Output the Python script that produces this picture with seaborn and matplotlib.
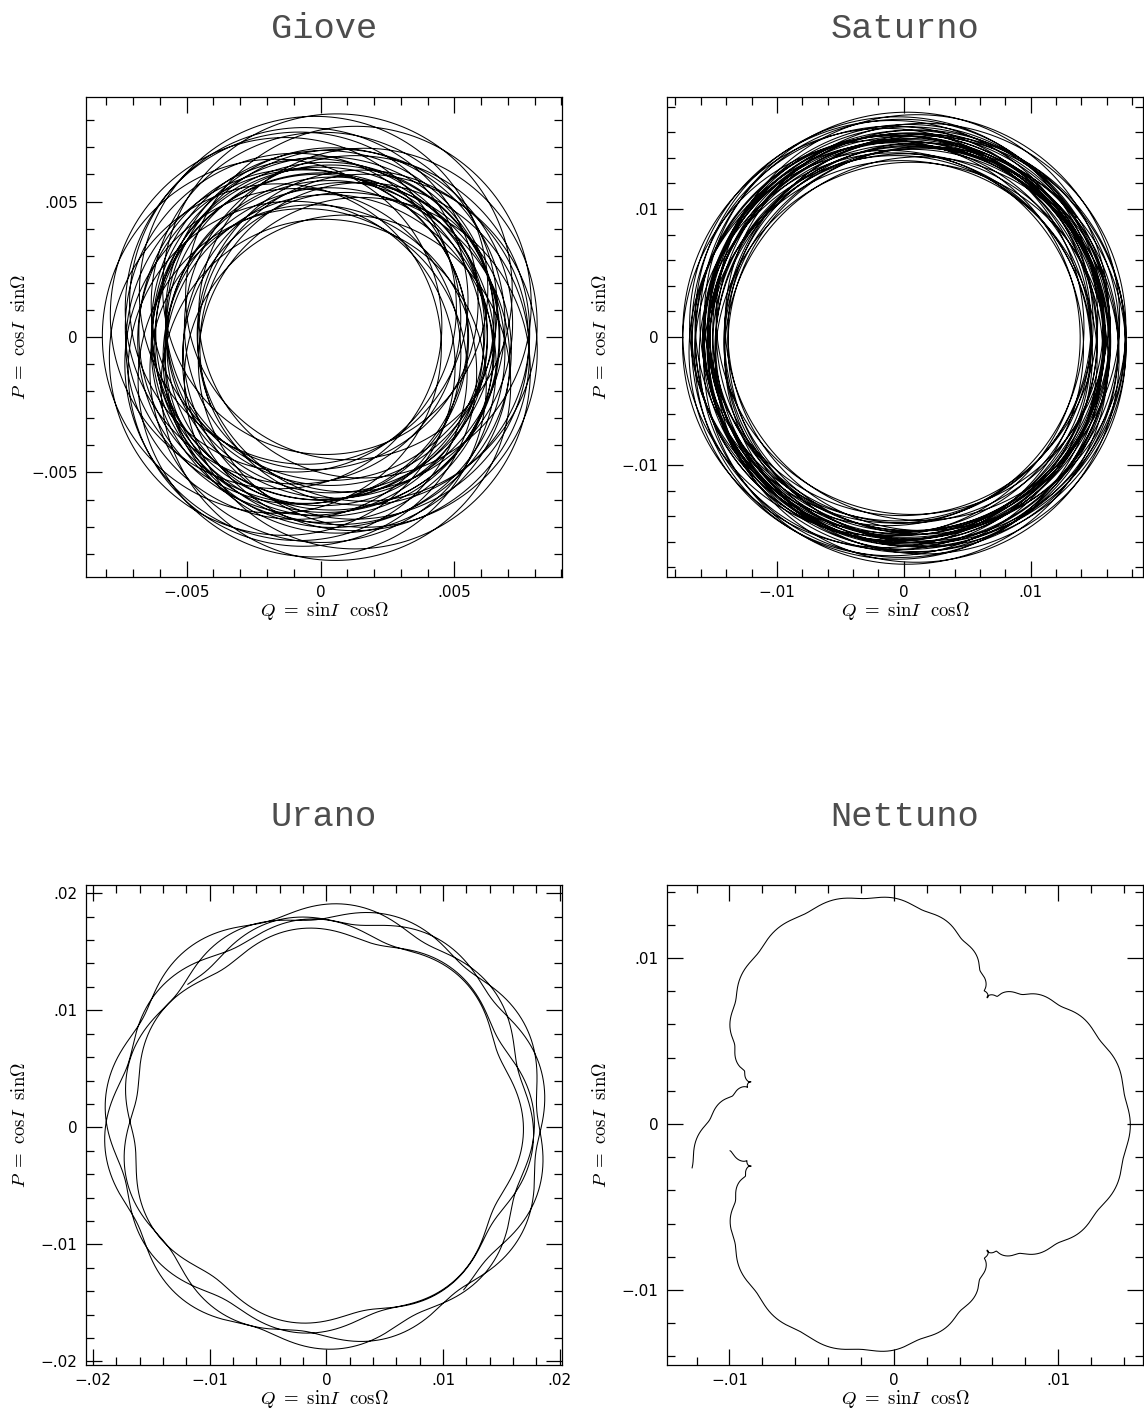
import numpy as np
import pandas as pd
import matplotlib
matplotlib.use("Agg")
import matplotlib.pyplot as plt
from matplotlib.ticker import MultipleLocator, FuncFormatter
import seaborn as sns

# secular modes s6, s7, s8: total turn over the whole run (deg) and phase at start (deg)
mode_names = ["s6", "s7", "s8"]
mode_turn = [-14387.0, -1633.0, -382.0]
mode_phase = [20.0, 139.0, 201.0]

# amplitude of each mode for every planet
planets = ["Giove", "Saturno", "Urano", "Nettuno"]
amp_giove = [-0.0063, -0.0011, -0.0009]
amp_saturno = [0.0157, -0.0011, -0.0009]
amp_urano = [0.0005, 0.0176, -0.0011]
amp_nettuno = [0.00009, 0.0023, 0.0117]
shift_q = [0.00015, 0.0002, -0.0001, 0.0003]
shift_p = [0.0, -0.0001, 0.0001, 0.0]

# axes limits and tick steps
xlims = [(-0.00876, 0.00902), (-0.01866, 0.01885), (-0.0206, 0.0202), (-0.0138, 0.01516)]
ylims = [(-0.00886, 0.00886), (-0.01875, 0.01875), (-0.0203, 0.0207), (-0.01452, 0.0144)]
major = [0.005, 0.01, 0.01, 0.01]
minor = [0.001, 0.002, 0.002, 0.002]

amps = [amp_giove, amp_saturno, amp_urano, amp_nettuno]
tau = np.linspace(0, 1, 30000)


def orbit(k):
    z = np.zeros_like(tau, dtype=complex)
    for a, w, g in zip(amps[k], mode_turn, mode_phase):
        z += a * np.exp(1j * np.radians(g + w * tau))
    return pd.DataFrame({"Q": z.real + shift_q[k], "P": z.imag + shift_p[k]})


def short(v, pos):
    if abs(v) < 1e-12:
        return "0"
    s = f"{abs(v):g}".lstrip("0")
    return ("\u2212" if v < 0 else "") + s


sns.set_style("ticks")
plt.rcParams["font.family"] = ["DejaVu Sans"]
plt.rcParams["mathtext.fontset"] = "cm"
plt.rcParams["axes.linewidth"] = 0.9
plt.rcParams["text.color"] = "black"

fig = plt.figure(figsize=(11.44, 14.14), dpi=100)
boxes = [(86, 97), (667, 97), (86, 885), (667, 885)]

for i, name in enumerate(planets):
    x0, y0 = boxes[i]
    ax = fig.add_axes([x0 / 1144, 1 - (y0 + 480) / 1414, 476 / 1144, 480 / 1414])
    df = orbit(i)
    sns.lineplot(data=df, x="Q", y="P", sort=False, estimator=None,
                 color="black", linewidth=0.75, ax=ax)
    ax.set_xlim(*xlims[i])
    ax.set_ylim(*ylims[i])
    ax.set_xlabel("")
    ax.set_ylabel("")
    for axis in (ax.xaxis, ax.yaxis):
        axis.set_major_locator(MultipleLocator(major[i]))
        axis.set_minor_locator(MultipleLocator(minor[i]))
        axis.set_major_formatter(FuncFormatter(short))
    ax.tick_params(which="both", direction="in", top=True, right=True,
                   width=0.9, labelsize=11, pad=6, colors="black")
    ax.tick_params(which="major", length=11.5)
    ax.tick_params(which="minor", length=5.8)
    for sp in ax.spines.values():
        sp.set_color("black")
    ax.text(0.5, -0.071, r"$Q\ =\ \mathrm{sin}I\ \ \mathrm{cos}\Omega$",
            transform=ax.transAxes, ha="center", va="center", fontsize=13.5)
    ax.text(-0.139, 0.5, r"$P\ =\ \mathrm{cos}I\ \ \mathrm{sin}\Omega$",
            transform=ax.transAxes, ha="center", va="center", rotation=90,
            fontsize=13.5)
    ax.text(0.5, 1.123, name, transform=ax.transAxes, ha="center", va="baseline",
            fontsize=25.5, family=["Liberation Mono"], color="0.3")

fig.savefig("out.png", dpi=100)
